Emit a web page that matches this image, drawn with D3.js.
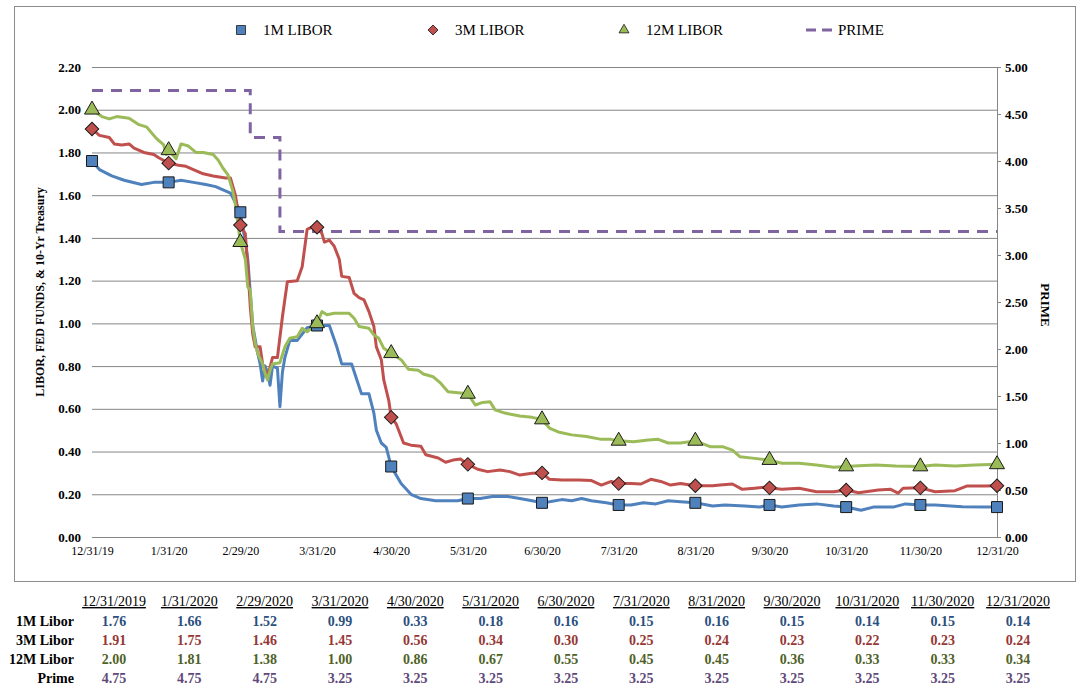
<!DOCTYPE html>
<html>
<head>
<meta charset="utf-8">
<script src="https://cdn.jsdelivr.net/npm/d3@7"></script>
<style>
  body { margin: 0; background: #fff; }
  svg { font-family: "Liberation Serif", "Times New Roman", serif; }
  .grid line { stroke: #868686; stroke-width: 1; }
  .grid .domain { display: none; }
  .axis text { fill: #000; }
  .tbl { font-size: 14px; }
</style>
</head>
<body>
<div id="chart"></div>
<script>
// month-end dates used for markers, x ticks and the table underneath
const tableDates = ['2019-12-31', '2020-01-31', '2020-02-29', '2020-03-31', '2020-04-30', '2020-05-31',
  '2020-06-30', '2020-07-31', '2020-08-31', '2020-09-30', '2020-10-31', '2020-11-30', '2020-12-31'];

const libor1mEnd = [1.76, 1.66, 1.52, 0.99, 0.33, 0.18, 0.16, 0.15, 0.16, 0.15, 0.14, 0.15, 0.14];
const libor3mEnd = [1.91, 1.75, 1.46, 1.45, 0.56, 0.34, 0.30, 0.25, 0.24, 0.23, 0.22, 0.23, 0.24];
const libor12mEnd = [2.00, 1.81, 1.38, 1.00, 0.86, 0.67, 0.55, 0.45, 0.45, 0.36, 0.33, 0.33, 0.34];
const primeEnd = [4.75, 4.75, 4.75, 3.25, 3.25, 3.25, 3.25, 3.25, 3.25, 3.25, 3.25, 3.25, 3.25];

// daily-ish readings
const libor1m = [
  ['2019-12-31', 1.76], ['2020-01-03', 1.72], ['2020-01-08', 1.69], ['2020-01-13', 1.67], ['2020-01-20', 1.65],
  ['2020-01-25', 1.66], ['2020-01-31', 1.66], ['2020-02-05', 1.67], ['2020-02-10', 1.66], ['2020-02-15', 1.65],
  ['2020-02-19', 1.64], ['2020-02-25', 1.61], ['2020-02-29', 1.52], ['2020-03-02', 1.38], ['2020-03-03', 1.30],
  ['2020-03-05', 0.99], ['2020-03-07', 0.86], ['2020-03-08', 0.81], ['2020-03-09', 0.73], ['2020-03-10', 0.80],
  ['2020-03-11', 0.77], ['2020-03-12', 0.71], ['2020-03-13', 0.80], ['2020-03-15', 0.79], ['2020-03-16', 0.61],
  ['2020-03-17', 0.77], ['2020-03-18', 0.84], ['2020-03-20', 0.92], ['2020-03-23', 0.92], ['2020-03-25', 0.95],
  ['2020-03-27', 0.98], ['2020-03-31', 0.99], ['2020-04-05', 0.99], ['2020-04-08', 0.89], ['2020-04-10', 0.81],
  ['2020-04-14', 0.81], ['2020-04-16', 0.74], ['2020-04-18', 0.67], ['2020-04-21', 0.67], ['2020-04-23', 0.58],
  ['2020-04-24', 0.50], ['2020-04-26', 0.44], ['2020-04-28', 0.42], ['2020-04-30', 0.33], ['2020-05-04', 0.25],
  ['2020-05-08', 0.20], ['2020-05-12', 0.18], ['2020-05-18', 0.17], ['2020-05-23', 0.17], ['2020-05-27', 0.17],
  ['2020-05-31', 0.18], ['2020-06-05', 0.18], ['2020-06-10', 0.19], ['2020-06-16', 0.19], ['2020-06-21', 0.18],
  ['2020-06-26', 0.17], ['2020-06-30', 0.16], ['2020-07-03', 0.165], ['2020-07-08', 0.175], ['2020-07-12', 0.17],
  ['2020-07-16', 0.18], ['2020-07-20', 0.17], ['2020-07-26', 0.16], ['2020-07-31', 0.15], ['2020-08-05', 0.15],
  ['2020-08-10', 0.16], ['2020-08-15', 0.155], ['2020-08-20', 0.17], ['2020-08-25', 0.165], ['2020-08-31', 0.16],
  ['2020-09-07', 0.145], ['2020-09-12', 0.15], ['2020-09-20', 0.145], ['2020-09-26', 0.14], ['2020-09-30', 0.15],
  ['2020-10-05', 0.14], ['2020-10-12', 0.15], ['2020-10-19', 0.155], ['2020-10-26', 0.145], ['2020-10-31', 0.14],
  ['2020-11-06', 0.125], ['2020-11-11', 0.14], ['2020-11-19', 0.14], ['2020-11-24', 0.155], ['2020-11-30', 0.15],
  ['2020-12-06', 0.15], ['2020-12-17', 0.142], ['2020-12-26', 0.14], ['2020-12-31', 0.14]
];

const libor3m = [
  ['2019-12-31', 1.91], ['2020-01-03', 1.88], ['2020-01-07', 1.87], ['2020-01-09', 1.84], ['2020-01-12', 1.835],
  ['2020-01-15', 1.84], ['2020-01-17', 1.82], ['2020-01-21', 1.80], ['2020-01-25', 1.79], ['2020-01-27', 1.775],
  ['2020-01-31', 1.75], ['2020-02-04', 1.74], ['2020-02-07', 1.735], ['2020-02-10', 1.72], ['2020-02-14', 1.70],
  ['2020-02-18', 1.69], ['2020-02-23', 1.68], ['2020-02-25', 1.68], ['2020-02-27', 1.60], ['2020-02-29', 1.46],
  ['2020-03-02', 1.42], ['2020-03-03', 1.27], ['2020-03-04', 1.08], ['2020-03-05', 0.95], ['2020-03-06', 0.89],
  ['2020-03-08', 0.89], ['2020-03-09', 0.81], ['2020-03-11', 0.75], ['2020-03-13', 0.84], ['2020-03-15', 0.84],
  ['2020-03-17', 1.03], ['2020-03-19', 1.195], ['2020-03-23', 1.20], ['2020-03-25', 1.265], ['2020-03-27', 1.44],
  ['2020-03-29', 1.45], ['2020-03-31', 1.45], ['2020-04-02', 1.42], ['2020-04-03', 1.38], ['2020-04-05', 1.39],
  ['2020-04-07', 1.36], ['2020-04-09', 1.30], ['2020-04-10', 1.22], ['2020-04-13', 1.215], ['2020-04-15', 1.14],
  ['2020-04-17', 1.12], ['2020-04-19', 1.11], ['2020-04-21', 1.055], ['2020-04-23', 0.985], ['2020-04-24', 0.89],
  ['2020-04-26', 0.83], ['2020-04-27', 0.735], ['2020-04-29', 0.64], ['2020-04-30', 0.56], ['2020-05-02', 0.53],
  ['2020-05-05', 0.44], ['2020-05-08', 0.43], ['2020-05-12', 0.425], ['2020-05-14', 0.385], ['2020-05-19', 0.37],
  ['2020-05-22', 0.35], ['2020-05-25', 0.36], ['2020-05-28', 0.365], ['2020-05-31', 0.34], ['2020-06-04', 0.317],
  ['2020-06-08', 0.306], ['2020-06-13', 0.314], ['2020-06-17', 0.306], ['2020-06-21', 0.29], ['2020-06-26', 0.298],
  ['2020-06-30', 0.30], ['2020-07-03', 0.27], ['2020-07-08', 0.267], ['2020-07-15', 0.267], ['2020-07-20', 0.264],
  ['2020-07-24', 0.243], ['2020-07-28', 0.26], ['2020-07-31', 0.25], ['2020-08-05', 0.25], ['2020-08-09', 0.248],
  ['2020-08-13', 0.27], ['2020-08-17', 0.26], ['2020-08-21', 0.243], ['2020-08-25', 0.25], ['2020-08-31', 0.24],
  ['2020-09-07', 0.24], ['2020-09-10', 0.243], ['2020-09-15', 0.248], ['2020-09-19', 0.223], ['2020-09-24', 0.228],
  ['2020-09-28', 0.233], ['2020-09-30', 0.23], ['2020-10-05', 0.223], ['2020-10-12', 0.228], ['2020-10-19', 0.212],
  ['2020-10-26', 0.212], ['2020-10-31', 0.22], ['2020-11-05', 0.207], ['2020-11-13', 0.22], ['2020-11-18', 0.223],
  ['2020-11-21', 0.205], ['2020-11-23', 0.228], ['2020-11-30', 0.23], ['2020-12-06', 0.212], ['2020-12-14', 0.217],
  ['2020-12-19', 0.239], ['2020-12-26', 0.239], ['2020-12-31', 0.24]
];

const libor12m = [
  ['2019-12-31', 2.00], ['2020-01-04', 1.968], ['2020-01-07', 1.957], ['2020-01-10', 1.968], ['2020-01-15', 1.96],
  ['2020-01-19', 1.93], ['2020-01-22', 1.92], ['2020-01-26', 1.866], ['2020-01-29', 1.835], ['2020-01-30', 1.79],
  ['2020-01-31', 1.81], ['2020-02-03', 1.77], ['2020-02-05', 1.84], ['2020-02-08', 1.83], ['2020-02-11', 1.80],
  ['2020-02-14', 1.80], ['2020-02-18', 1.79], ['2020-02-20', 1.765], ['2020-02-22', 1.726], ['2020-02-24', 1.695],
  ['2020-02-26', 1.617], ['2020-02-27', 1.555], ['2020-02-29', 1.38], ['2020-03-02', 1.30], ['2020-03-03', 1.17],
  ['2020-03-04', 1.156], ['2020-03-05', 0.985], ['2020-03-06', 0.907], ['2020-03-07', 0.86], ['2020-03-09', 0.81],
  ['2020-03-10', 0.766], ['2020-03-11', 0.735], ['2020-03-12', 0.78], ['2020-03-13', 0.81], ['2020-03-16', 0.816],
  ['2020-03-18', 0.89], ['2020-03-20', 0.93], ['2020-03-23', 0.937], ['2020-03-25', 0.977], ['2020-03-27', 0.96],
  ['2020-03-31', 1.00], ['2020-04-02', 1.055], ['2020-04-04', 1.04], ['2020-04-07', 1.047], ['2020-04-10', 1.047],
  ['2020-04-13', 1.047], ['2020-04-15', 1.024], ['2020-04-17', 0.985], ['2020-04-21', 0.977], ['2020-04-23', 0.946],
  ['2020-04-25', 0.93], ['2020-04-27', 0.883], ['2020-04-30', 0.86], ['2020-05-04', 0.83], ['2020-05-07', 0.785],
  ['2020-05-11', 0.78], ['2020-05-13', 0.763], ['2020-05-17', 0.75], ['2020-05-20', 0.72], ['2020-05-23', 0.68],
  ['2020-05-27', 0.675], ['2020-05-31', 0.67], ['2020-06-03', 0.618], ['2020-06-06', 0.63], ['2020-06-09', 0.633],
  ['2020-06-11', 0.595], ['2020-06-15', 0.58], ['2020-06-21', 0.566], ['2020-06-26', 0.56], ['2020-06-30', 0.55],
  ['2020-07-03', 0.51], ['2020-07-07', 0.49], ['2020-07-12', 0.478], ['2020-07-18', 0.47], ['2020-07-24', 0.457],
  ['2020-07-28', 0.457], ['2020-07-31', 0.45], ['2020-08-06', 0.446], ['2020-08-12', 0.454], ['2020-08-16', 0.457],
  ['2020-08-20', 0.44], ['2020-08-25', 0.44], ['2020-08-31', 0.45], ['2020-09-06', 0.423], ['2020-09-11', 0.423],
  ['2020-09-15', 0.407], ['2020-09-18', 0.376], ['2020-09-24', 0.368], ['2020-09-30', 0.36], ['2020-10-05', 0.345],
  ['2020-10-12', 0.345], ['2020-10-19', 0.337], ['2020-10-26', 0.326], ['2020-10-31', 0.33], ['2020-11-05', 0.334],
  ['2020-11-12', 0.337], ['2020-11-20', 0.332], ['2020-11-30', 0.33], ['2020-12-06', 0.337], ['2020-12-14', 0.332],
  ['2020-12-22', 0.337], ['2020-12-31', 0.34]
];

// prime rate steps (secondary axis)
const prime = [['2019-12-31', 4.75], ['2020-03-04', 4.25], ['2020-03-16', 3.25], ['2020-12-31', 3.25]];

const leftTicks = [0, 0.2, 0.4, 0.6, 0.8, 1.0, 1.2, 1.4, 1.6, 1.8, 2.0, 2.2];
const rightTicks = [0, 0.5, 1.0, 1.5, 2.0, 2.5, 3.0, 3.5, 4.0, 4.5, 5.0];

const series = [
  { name: '1M LIBOR', row: '1M Libor', data: libor1m, ends: libor1mEnd, color: '#4F81BD', text: '#2B4F7E', shape: 'square' },
  { name: '3M LIBOR', row: '3M Libor', data: libor3m, ends: libor3mEnd, color: '#C0504D', text: '#953735', shape: 'diamond' },
  { name: '12M LIBOR', row: '12M Libor', data: libor12m, ends: libor12mEnd, color: '#9BBB59', text: '#4F6228', shape: 'triangle' }
];
const primeColor = '#8064A2';
const primeText = '#5F497A';

const W = 1089, H = 698;
const parse = d3.timeParse('%Y-%m-%d');
const dates = tableDates.map(parse);

const svg = d3.select('#chart').append('svg')
  .attr('width', W).attr('height', H)
  .attr('viewBox', `0 0 ${W} ${H}`);

// chart frame
svg.append('rect')
  .attr('x', 14.5).attr('y', 6.5).attr('width', 1061).attr('height', 575)
  .attr('fill', '#fff').attr('stroke', '#8c8c8c');

const x = d3.scaleTime().domain([dates[0], dates[dates.length - 1]]).range([92, 997]);
const yL = d3.scaleLinear().domain([0, 2.2]).range([537, 67]);
const yR = d3.scaleLinear().domain([0, 5]).range([537, 67]);

// gridlines + left labels
const gL = svg.append('g').attr('class', 'grid axis').attr('transform', 'translate(92,0)')
  .call(d3.axisLeft(yL).tickValues(leftTicks).tickFormat(d3.format('.2f'))
    .tickSize(-905).tickPadding(11));
gL.selectAll('text').style('font-size', '13px').style('font-weight', 'bold')
  .attr('font-family', '"Liberation Serif", serif');

// right axis
const gR = svg.append('g').attr('class', 'axis').attr('transform', 'translate(997,0)')
  .call(d3.axisRight(yR).tickValues(rightTicks).tickFormat(d3.format('.2f'))
    .tickSize(4).tickSizeOuter(0).tickPadding(4));
gR.select('.domain').attr('stroke', '#868686');
gR.selectAll('line').attr('stroke', '#868686');
gR.selectAll('text').style('font-size', '13px').style('font-weight', 'bold')
  .attr('font-family', '"Liberation Serif", serif');

// x axis labels
const gX = svg.append('g').attr('class', 'axis').attr('transform', 'translate(0,537)')
  .call(d3.axisBottom(x).tickValues(dates).tickFormat(d3.timeFormat('%-m/%-d/%y'))
    .tickSize(0).tickPadding(9));
gX.select('.domain').attr('stroke', '#868686');
gX.selectAll('text').style('font-size', '12px').attr('font-family', '"Liberation Serif", serif');

// axis titles
svg.append('text')
  .attr('transform', 'translate(44,292) rotate(-90)')
  .attr('text-anchor', 'middle')
  .style('font-size', '12px').style('font-weight', 'bold')
  .text('LIBOR, FED FUNDS, & 10-Yr Treasury');
svg.append('text')
  .attr('transform', 'translate(1041,305) rotate(90)')
  .attr('text-anchor', 'middle')
  .style('font-size', '13px').style('font-weight', 'bold')
  .text('PRIME');

// prime dashed step line
svg.append('path')
  .datum(prime)
  .attr('fill', 'none')
  .attr('stroke', primeColor)
  .attr('stroke-width', 3)
  .attr('stroke-dasharray', '11,8')
  .attr('d', d3.line().curve(d3.curveStepAfter).x(d => x(parse(d[0]))).y(d => yR(d[1])));

// libor lines
const line = d3.line().x(d => x(parse(d[0]))).y(d => yL(d[1]));
svg.append('g').selectAll('path').data(series).join('path')
  .attr('fill', 'none')
  .attr('stroke', d => d.color)
  .attr('stroke-width', 3)
  .attr('stroke-linejoin', 'round')
  .attr('d', d => line(d.data));

function symbolPath(shape, size) {
  if (shape === 'square') return d3.symbol(d3.symbolSquare, size * size)();
  if (shape === 'diamond') return d3.symbol(d3.symbolSquare, size * size / 2)();
  return d3.symbol(d3.symbolTriangle, Math.sqrt(3) / 4 * size * size)();
}
const markerSize = { square: 11, diamond: 13.5, triangle: 15 };

// month-end markers
series.forEach(s => {
  svg.append('g').selectAll('path').data(s.ends).join('path')
    .attr('d', symbolPath(s.shape, markerSize[s.shape]))
    .attr('transform', (v, i) => `translate(${x(dates[i])},${yL(v)})` + (s.shape === 'diamond' ? ' rotate(45)' : ''))
    .attr('fill', s.color)
    .attr('stroke', '#1a1a1a')
    .attr('stroke-width', 1);
});

// legend
const legendX = [241, 433, 624];
const leg = svg.append('g');
series.forEach((s, i) => {
  const lsz = { square: 9, diamond: 10, triangle: 10 }[s.shape];
  leg.append('path')
    .attr('d', symbolPath(s.shape, lsz))
    .attr('transform', `translate(${legendX[i]},30)` + (s.shape === 'diamond' ? ' rotate(45)' : ''))
    .attr('fill', s.color).attr('stroke', '#1a1a1a').attr('stroke-width', 0.8);
  leg.append('text').attr('x', legendX[i] + 22).attr('y', 35)
    .style('font-size', '15px').text(s.name);
});
leg.append('line')
  .attr('x1', 806).attr('x2', 836).attr('y1', 30).attr('y2', 30)
  .attr('stroke', primeColor).attr('stroke-width', 3).attr('stroke-dasharray', '10,6');
leg.append('text').attr('x', 838).attr('y', 35).style('font-size', '15px').text('PRIME');

// data table below the chart
const col = d3.scalePoint().domain(d3.range(tableDates.length)).range([114, 1018]);
const fmtHead = d3.timeFormat('%-m/%-d/%Y');
const tbl = svg.append('g').attr('class', 'tbl');
tbl.selectAll('text.head').data(dates).join('text')
  .attr('class', 'head')
  .attr('x', (d, i) => col(i)).attr('y', 606)
  .attr('text-anchor', 'middle')
  .style('text-decoration', 'underline')
  .text(d => fmtHead(d));

const rows = series.map(s => ({ label: s.row, values: s.ends, color: s.text }))
  .concat([{ label: 'Prime', values: primeEnd, color: primeText }]);
const rowY = [626, 645, 664, 683];
rows.forEach((r, j) => {
  tbl.append('text')
    .attr('x', 74).attr('y', rowY[j])
    .attr('text-anchor', 'end')
    .style('font-weight', 'bold')
    .text(r.label);
  tbl.append('g').selectAll('text').data(r.values).join('text')
    .attr('x', (v, i) => col(i)).attr('y', rowY[j])
    .attr('text-anchor', 'middle')
    .attr('fill', r.color)
    .style('font-weight', 'bold')
    .text(v => v.toFixed(2));
});
</script>
</body>
</html>
